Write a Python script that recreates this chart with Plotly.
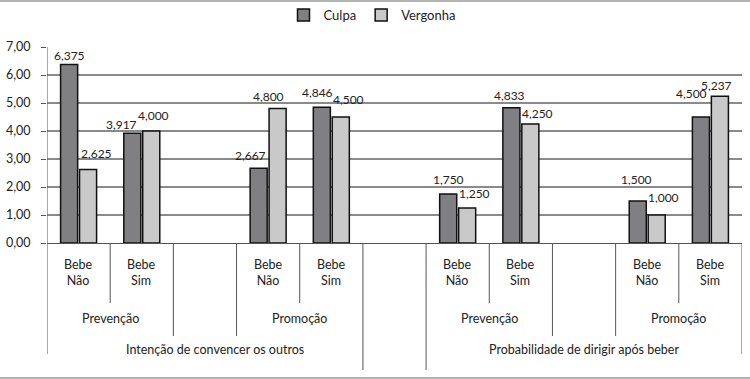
import plotly.graph_objects as go

# ---------------- data ----------------
slot_labels = ["Bebe Não", "Bebe Sim", "", "Bebe Não", "Bebe Sim", "",
               "Bebe Não", "Bebe Sim", "", "Bebe Não", "Bebe Sim"]
level2 = ["Prevenção", "Prevenção", "", "Promoção", "Promoção", "",
          "Prevenção", "Prevenção", "", "Promoção", "Promoção"]
level3 = ["Intenção de convencer os outros"] * 5 + [""] + \
         ["Probabilidade de dirigir após beber"] * 5
culpa = [6.375, 3.917, None, 2.667, 4.846, None, 1.750, 4.833, None, 1.500, 4.500]
vergonha = [2.625, 4.000, None, 4.800, 4.500, None, 1.250, 4.250, None, 1.000, 5.237]
y_ticks = [0, 1, 2, 3, 4, 5, 6, 7]

# ---------------- style ----------------
FONT = "Lato"
TXT = "#222222"
SEP = "#555555"
# pixel shifts of the data labels (xshift, yshift above bar top)
culpa_label_shift = [(0, 9), (-11, 9), None, (-8, 13), (-4, 15), None,
                     (0, 15), (-2, 12), None, (-1, 22), (-9, 24)]
verg_label_shift = [(8, 16), (2, 16), None, (-9, 12), (8, 18), None,
                    (7, 15), (7, 11), None, (7, 18), (-3, 11)]

W, H = 750, 379
ML, MR, MT, MB = 47, 8, 47, 136
PW, PH = W - ML - MR, H - MT - MB


def py2paper(py):
    return (H - MB - py) / PH


def px2paper(px):
    return (px - ML) / PW


n = len(slot_labels)
xs = list(range(n))
BAR_GAP = 0.4
half = (1 - BAR_GAP) / 4  # centre offset of each bar in a pair

fig = go.Figure()
fig.add_trace(go.Bar(name="Culpa", x=xs, y=culpa,
                     marker=dict(color="#808082", line=dict(color="#111111", width=1.5)),
                     hoverinfo="y"))
fig.add_trace(go.Bar(name="Vergonha", x=xs, y=vergonha,
                     marker=dict(color="#c9c9c9", line=dict(color="#111111", width=1.5)),
                     hoverinfo="y"))


def fmt(v):
    return f"{v:.3f}".replace(".", ",")


annotations = []
for vals, shifts, sign in ((culpa, culpa_label_shift, -1), (vergonha, verg_label_shift, 1)):
    for i, v in enumerate(vals):
        if v is None:
            continue
        dx, up = shifts[i]
        annotations.append(dict(x=i + sign * half, y=v, xref="x", yref="y",
                                text=fmt(v), showarrow=False, xanchor="center",
                                yanchor="middle", xshift=dx, yshift=up,
                                font=dict(family=FONT, size=12, color=TXT)))

# level-1 labels (two lines)
for i, lab in enumerate(slot_labels):
    if not lab:
        continue
    annotations.append(dict(x=i, y=py2paper(272), xref="x", yref="paper",
                            text="<br>".join(lab.split(" ")), showarrow=False,
                            xanchor="center", yanchor="middle",
                            font=dict(family=FONT, size=12.5, color=TXT)))


def runs(labels):
    out = []
    start = 0
    for i in range(1, len(labels) + 1):
        if i == len(labels) or labels[i] != labels[start]:
            out.append((labels[start], start, i - 1))
            start = i
    return out


for lab, a, b in runs(level2):
    if lab:
        annotations.append(dict(x=(a + b) / 2, y=py2paper(318), xref="x", yref="paper",
                                text=lab, showarrow=False, xanchor="center", yanchor="middle",
                                font=dict(family=FONT, size=12.5, color=TXT)))
l3_shift = {"Intenção de convencer os outros": 10}
for lab, a, b in runs(level3):
    if lab:
        annotations.append(dict(x=(a + b) / 2, y=py2paper(349), xref="x", yref="paper",
                                text=lab, showarrow=False, xanchor="center", yanchor="middle",
                                xshift=l3_shift.get(lab, 0),
                                font=dict(family=FONT, size=12.5, color=TXT)))

# separators of the category axis
shapes = []
depth_px = {1: 303, 2: 336, 3: 370, "edge": 354}
for k in range(1, n + 1):
    if k == n:
        d = "edge"
    elif level3[k - 1] != level3[k]:
        d = 3
    elif level2[k - 1] != level2[k]:
        d = 2
    else:
        d = 1
    shapes.append(dict(type="line", xref="x", yref="paper", x0=k - 0.5, x1=k - 0.5,
                       y0=0, y1=py2paper(depth_px[d]), line=dict(color=SEP, width=1)))
# y-axis line extended down as the left edge of the category axis
shapes.append(dict(type="line", xref="x", yref="paper", x0=-0.5, x1=-0.5,
                   y0=1, y1=py2paper(depth_px["edge"]), line=dict(color=SEP, width=1)))

# frame lines at top and bottom of the figure
for py in (1, 378):
    shapes.append(dict(type="line", xref="paper", yref="paper",
                       x0=px2paper(0), x1=px2paper(W), y0=py2paper(py), y1=py2paper(py),
                       line=dict(color="#b3b3b3", width=2)))

fig.update_layout(
    width=W, height=H,
    margin=dict(l=ML, r=MR, t=MT, b=MB, autoexpand=False),
    paper_bgcolor="white", plot_bgcolor="white",
    separators=",.",
    barmode="group", bargap=BAR_GAP, bargroupgap=0.1,
    font=dict(family=FONT, size=12, color=TXT),
    showlegend=True,
    legend=dict(orientation="h", x=px2paper(372), xanchor="center",
                y=py2paper(15), yanchor="middle", bgcolor="rgba(0,0,0,0)",
                font=dict(family=FONT, size=13, color=TXT),
                itemwidth=30, traceorder="normal"),
    xaxis=dict(range=[-0.5, n - 0.5], showticklabels=False, showgrid=False,
               zeroline=False, showline=True, linecolor=SEP, linewidth=1, ticks=""),
    yaxis=dict(range=[0, 7], tickvals=y_ticks, tickformat=".2f",
               showgrid=True, gridcolor="#8a8a8a", gridwidth=1.5,
               zeroline=False, showline=False,
               ticks="outside", ticklen=5, tickcolor=SEP, ticklabelstandoff=8,
               tickfont=dict(family=FONT, size=12.5, color=TXT)),
    annotations=annotations,
    shapes=shapes,
)

fig.write_html("out.html", config={"displayModeBar": False},
               post_script="document.body.style.margin='0';document.body.style.overflow='hidden';")
